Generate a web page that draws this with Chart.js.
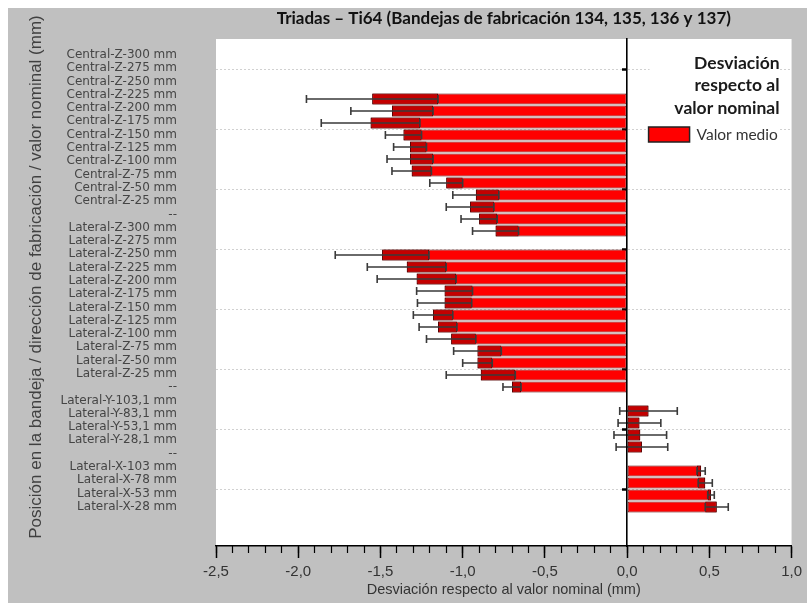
<!DOCTYPE html>
<html>
<head>
<meta charset="utf-8">
<script src="https://cdn.jsdelivr.net/npm/chart.js@4.4.0/dist/chart.umd.min.js"></script>
<style>
  html, body { margin: 0; padding: 0; background: #fff; }
  canvas { display: block; }
</style>
</head>
<body>
<canvas id="chart" width="807" height="603"></canvas>
<script>
const chartTitle = 'Triadas – Ti64 (Bandejas de fabricación 134, 135, 136 y 137)';
const yTitle = 'Posición en la bandeja / dirección de fabricación / valor nominal (mm)';
const xTitle = 'Desviación respecto al valor nominal (mm)';
const legendTitle = ['Desviación', 'respecto al', 'valor nominal'];
const legendLabel = 'Valor medio';

const rowLabels = [
  'Central-Z-300 mm', 'Central-Z-275 mm', 'Central-Z-250 mm', 'Central-Z-225 mm',
  'Central-Z-200 mm', 'Central-Z-175 mm', 'Central-Z-150 mm', 'Central-Z-125 mm',
  'Central-Z-100 mm', 'Central-Z-75 mm', 'Central-Z-50 mm', 'Central-Z-25 mm',
  '--',
  'Lateral-Z-300 mm', 'Lateral-Z-275 mm', 'Lateral-Z-250 mm', 'Lateral-Z-225 mm',
  'Lateral-Z-200 mm', 'Lateral-Z-175 mm', 'Lateral-Z-150 mm', 'Lateral-Z-125 mm',
  'Lateral-Z-100 mm', 'Lateral-Z-75 mm', 'Lateral-Z-50 mm', 'Lateral-Z-25 mm',
  '--',
  'Lateral-Y-103,1 mm', 'Lateral-Y-83,1 mm', 'Lateral-Y-53,1 mm', 'Lateral-Y-28,1 mm',
  '--',
  'Lateral-X-103 mm', 'Lateral-X-78 mm', 'Lateral-X-53 mm', 'Lateral-X-28 mm'
];

// valor medio (mm), null = fila separadora
const meanValues = [
  -1.55, -1.43, -1.56, -1.36, -1.32, -1.32, -1.31, -1.10, -0.92, -0.955, -0.90, -0.80,
  null,
  -1.49, -1.34, -1.28, -1.11, -1.11, -1.18, -1.15, -1.07, -0.91, -0.91, -0.89, -0.70,
  null,
  0.13, 0.075, 0.08, 0.09,
  null,
  0.45, 0.475, 0.51, 0.545
];

// desviación típica (mm)
const sdValues = [
  0.40, 0.25, 0.30, 0.11, 0.10, 0.14, 0.12, 0.10, 0.14, 0.145, 0.11, 0.14,
  null,
  0.285, 0.24, 0.24, 0.17, 0.165, 0.12, 0.115, 0.15, 0.145, 0.09, 0.21, 0.055,
  null,
  0.175, 0.13, 0.16, 0.157,
  null,
  0.025, 0.043, 0.02, 0.07
];

const xTickLabels = ['-2,5', '-2,0', '-1,5', '-1,0', '-0,5', '0,0', '0,5', '1,0'];

const barData = [];
const innerData = [];
meanValues.forEach((m, i) => {
  if (m === null) return;
  barData.push({ y: i, x: m });
  const s = sdValues[i];
  const inner = m < 0 ? Math.min(0, m + s) : Math.max(0, m - s);
  innerData.push({ y: i, x: [m, inner] });
});

const sans = "'Liberation Sans', Arial, sans-serif";

const background = {
  id: 'background',
  beforeDraw(chart) {
    const { ctx, width, height, chartArea } = chart;
    ctx.save();
    ctx.fillStyle = '#fff';
    ctx.fillRect(0, 0, width, height);
    ctx.fillStyle = '#c0c0c0';
    ctx.fillRect(8, 8, width - 8, height - 8);
    ctx.fillStyle = '#fff';
    ctx.fillRect(chartArea.left, chartArea.top, chartArea.right - chartArea.left, chartArea.bottom - chartArea.top);
    ctx.restore();
  }
};

const errorBars = {
  id: 'errorBars',
  afterDatasetsDraw(chart) {
    const ctx = chart.ctx;
    const xs = chart.scales.x;
    const ys = chart.scales.y;
    ctx.save();
    ctx.strokeStyle = '#3a3a3a';
    ctx.lineWidth = 1.6;
    meanValues.forEach((m, i) => {
      if (m === null) return;
      const y = ys.getPixelForValue(i);
      const a = xs.getPixelForValue(m - sdValues[i]);
      const b = xs.getPixelForValue(m + sdValues[i]);
      ctx.beginPath();
      ctx.moveTo(a, y);
      ctx.lineTo(b, y);
      ctx.moveTo(a, y - 4);
      ctx.lineTo(a, y + 4);
      ctx.moveTo(b, y - 4);
      ctx.lineTo(b, y + 4);
      ctx.stroke();
    });
    ctx.restore();
  }
};

const sideTexts = {
  id: 'sideTexts',
  afterDraw(chart) {
    const { ctx, chartArea } = chart;
    ctx.save();
    // titulo eje y
    ctx.translate(36, 277);
    ctx.rotate(-Math.PI / 2);
    ctx.font = '17px ' + sans;
    ctx.fillStyle = '#404040';
    ctx.textAlign = 'center';
    ctx.textBaseline = 'middle';
    ctx.fillText(yTitle, 0, 0);
    ctx.restore();

    // leyenda
    const right = chartArea.right - 12;
    const top = chartArea.top;
    ctx.save();
    ctx.fillStyle = '#fff';
    ctx.fillRect(right - 130, top + 4, 130, 108);
    ctx.fillStyle = '#1a1a1a';
    ctx.font = "bold 17.5px Lato, 'Open Sans', sans-serif";
    ctx.textAlign = 'right';
    ctx.textBaseline = 'middle';
    legendTitle.forEach((t, i) => ctx.fillText(t, right, top + 24 + i * 22.5));
    ctx.fillStyle = '#ff0000';
    ctx.fillRect(right - 131, top + 88, 41, 15);
    ctx.strokeStyle = '#222';
    ctx.lineWidth = 1.5;
    ctx.strokeRect(right - 131, top + 88, 41, 15);
    ctx.fillStyle = '#333';
    ctx.font = "15.5px Lato, 'Open Sans', sans-serif";
    ctx.textAlign = 'left';
    ctx.fillText(legendLabel, right - 83, top + 96);
    ctx.restore();
  }
};

new Chart(document.getElementById('chart'), {
  type: 'bar',
  data: {
    datasets: [
      {
        label: 'Desviación típica',
        data: innerData,
        xAxisID: 'x',
        yAxisID: 'y',
        order: 1,
        grouped: false,
        categoryPercentage: 1,
        barPercentage: 0.92,
        backgroundColor: '#c40000',
        borderColor: '#5a0000',
        borderWidth: 1,
        borderSkipped: false
      },
      {
        label: legendLabel,
        data: barData,
        xAxisID: 'x',
        yAxisID: 'y',
        order: 2,
        grouped: false,
        categoryPercentage: 1,
        barPercentage: 0.92,
        backgroundColor: '#ff0000',
        borderColor: '#5a0000',
        borderWidth: 1,
        borderSkipped: false
      }
    ]
  },
  options: {
    indexAxis: 'y',
    responsive: false,
    animation: false,
    layout: { padding: { left: 0, right: 12, top: 0, bottom: 0 } },
    scales: {
      x: {
        type: 'linear',
        axis: 'x',
        position: 'bottom',
        min: -2.5,
        max: 1,
        ticks: {
          stepSize: 0.5,
          autoSkip: false,
          maxRotation: 0,
          padding: 5,
          color: '#333',
          font: { family: sans, size: 15 },
          callback: (v, i) => xTickLabels[i]
        },
        grid: { drawOnChartArea: false, tickLength: 12, tickColor: '#000', tickWidth: 1.5 },
        border: { color: '#000', width: 1.6 },
        title: {
          display: true,
          text: xTitle,
          color: '#333',
          font: { family: sans, size: 14.5 },
          padding: { top: 0, bottom: 4 }
        },
        afterFit: s => { s.height = 57; }
      },
      xm: {
        type: 'linear',
        axis: 'x',
        position: { y: 37.25 },
        min: -2.5,
        max: 1,
        ticks: { display: false, stepSize: 0.1 },
        grid: { drawOnChartArea: false, tickLength: 7, tickColor: '#000', tickWidth: 1.2 },
        border: { display: false }
      },
      y: {
        type: 'linear',
        axis: 'y',
        position: { x: 0 },
        reverse: true,
        offset: false,
        min: -5,
        max: 37.25,
        afterBuildTicks: s => {
          const t = [];
          for (let v = -2.5; v < 37.25; v += 5) t.push({ value: v });
          s.ticks = t;
        },
        ticks: { display: false },
        grid: {
          offset: false,
          color: 'rgba(0,0,0,0.18)',
          lineWidth: 1,
          tickLength: 4,
          tickWidth: 2.5,
          tickColor: '#000'
        },
        border: { display: true, color: '#000', width: 1.6, dash: [2, 2], z: 1 }
      },
      yl: {
        type: 'linear',
        axis: 'y',
        position: 'left',
        reverse: true,
        offset: false,
        min: -1.2,
        max: 36.96,
        afterBuildTicks: s => { s.ticks = rowLabels.map((l, i) => ({ value: i })); },
        afterFit: s => { s.width = 216; },
        grid: { display: true, drawOnChartArea: false, offset: false, tickLength: 39, tickColor: 'rgba(0,0,0,0)' },
        border: { display: false },
        ticks: {
          autoSkip: false,
          padding: 0,
          color: '#454545',
          font: { family: "'DejaVu Sans', sans-serif", size: 12 },
          callback: v => rowLabels[v]
        }
      }
    },
    plugins: {
      legend: { display: false },
      tooltip: { enabled: false },
      title: {
        display: true,
        text: chartTitle,
        fullSize: false,
        color: '#111',
        font: { family: "Lato, 'Open Sans', sans-serif", size: 17, weight: 'bold' },
        padding: { top: 8, bottom: 10.6 }
      }
    }
  },
  plugins: [background, errorBars, sideTexts]
});
</script>
</body>
</html>
